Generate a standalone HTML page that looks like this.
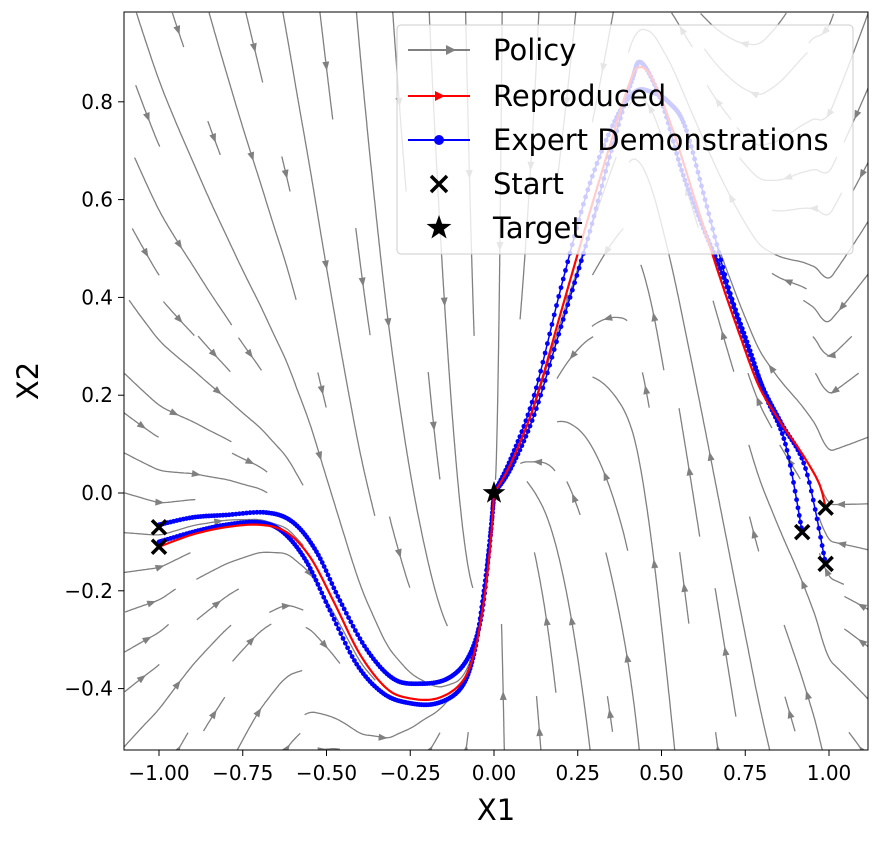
<!DOCTYPE html>
<html><head><meta charset="utf-8"><style>
body{margin:0;background:#fff;}
svg text{font-family:"DejaVu Sans","Liberation Sans",sans-serif;fill:#000;}
</style></head><body>
<svg id="chart" width="879" height="836" xmlns="http://www.w3.org/2000/svg">
<defs><clipPath id="clip"><rect x="124" y="12" width="744" height="738"/></clipPath></defs>
<g id="stream" clip-path="url(#clip)"></g>
<g id="demos" clip-path="url(#clip)"></g>
<g id="repro" clip-path="url(#clip)"></g>
<g id="marks"></g>
<g id="axes"></g>
<g id="legend"></g>
</svg>
<script>
// ---- data ----
const xTicks=[-1,-0.75,-0.5,-0.25,0,0.25,0.5,0.75,1];
const xTickLabels=["\u22121.00","\u22120.75","\u22120.50","\u22120.25","0.00","0.25","0.50","0.75","1.00"];
const yTicks=[-0.4,-0.2,0,0.2,0.4,0.6,0.8];
const yTickLabels=["\u22120.4","\u22120.2","0.0","0.2","0.4","0.6","0.8"];
const reproLeftX=[-1,-0.9,-0.8,-0.7,-0.62,-0.55,-0.48,-0.4,-0.32,-0.25,-0.17,-0.1,-0.06,-0.03,-0.01,0];
const reproLeftY=[-0.11,-0.085,-0.07,-0.065,-0.08,-0.13,-0.22,-0.33,-0.4,-0.42,-0.42,-0.39,-0.33,-0.22,-0.1,0];
const reproRightX=[0,0.05,0.12,0.2,0.28,0.35,0.4,0.43,0.47,0.53,0.6,0.67,0.73,0.79,0.85,0.92,0.97,0.99];
const reproRightY=[0,0.06,0.18,0.37,0.56,0.72,0.83,0.87,0.85,0.75,0.6,0.45,0.33,0.22,0.15,0.08,0.02,-0.03];
const demoA_X=[-1,-0.9,-0.8,-0.68,-0.6,-0.53,-0.46,-0.38,-0.3,-0.22,-0.14,-0.08,-0.04,-0.015,0];
const demoA_Y=[-0.065,-0.05,-0.045,-0.04,-0.06,-0.12,-0.22,-0.32,-0.38,-0.39,-0.38,-0.34,-0.26,-0.12,0];
const demoB_X=[-1,-0.9,-0.8,-0.7,-0.63,-0.56,-0.49,-0.41,-0.33,-0.25,-0.17,-0.1,-0.06,-0.03,-0.01,0];
const demoB_Y=[-0.1,-0.08,-0.065,-0.06,-0.08,-0.14,-0.24,-0.35,-0.41,-0.43,-0.43,-0.4,-0.33,-0.2,-0.08,0];
const demoC_X=[0,0.05,0.12,0.2,0.28,0.36,0.42,0.47,0.52,0.57,0.63,0.7,0.76,0.81,0.87,0.92];
const demoC_Y=[0,0.07,0.2,0.42,0.62,0.76,0.82,0.82,0.8,0.75,0.6,0.42,0.3,0.2,0.1,-0.08];
const demoD_X=[0,0.05,0.12,0.2,0.28,0.35,0.41,0.44,0.5,0.56,0.62,0.68,0.74,0.8,0.86,0.93,0.99];
const demoD_Y=[0,0.05,0.16,0.34,0.52,0.7,0.84,0.88,0.8,0.66,0.55,0.45,0.33,0.22,0.14,0.05,-0.145];
const startsX=[-1,-1,0.92,0.99,0.99];
const startsY=[-0.07,-0.11,-0.08,-0.03,-0.145];
// ---- scales ----
const sx=x=>159+(x+1)*335, sy=y=>493-y*489;
const ns="http://www.w3.org/2000/svg";
function mk(tag,attrs,parent){const e=document.createElementNS(ns,tag);for(const k in attrs)e.setAttribute(k,attrs[k]);parent.appendChild(e);return e;}
function interp(xs,ys,x){if(x<=xs[0])return ys[0];for(let i=1;i<xs.length;i++){if(x<=xs[i]){const t=(x-xs[i-1])/(xs[i]-xs[i-1]);return ys[i-1]+t*(ys[i]-ys[i-1]);}}return ys[ys.length-1];}
function h(x){ if(x<0){return x<-1?reproLeftY[0]:interp(reproLeftX,reproLeftY,x);} return x>0.99?reproRightY[reproRightY.length-1]:interp(reproRightX,reproRightY,x);}
function field(x,y){const dx=-x*1.2;const e=0.02;const hp=(h(x+e)-h(x-e))/(2*e);const dy=hp*dx-2.5*(y-h(x));return [dx,dy];}
function smooth(xs,ys,n){const P=xs.map((x,i)=>[sx(x),sy(ys[i])]);const out=[];
 for(let i=0;i<P.length-1;i++){const p0=P[Math.max(i-1,0)],p1=P[i],p2=P[i+1],p3=P[Math.min(i+2,P.length-1)];
  for(let k=0;k<n;k++){const t=k/n,t2=t*t,t3=t2*t;
   out.push([0.5*(2*p1[0]+(-p0[0]+p2[0])*t+(2*p0[0]-5*p1[0]+4*p2[0]-p3[0])*t2+(-p0[0]+3*p1[0]-3*p2[0]+p3[0])*t3),
             0.5*(2*p1[1]+(-p0[1]+p2[1])*t+(2*p0[1]-5*p1[1]+4*p2[1]-p3[1])*t2+(-p0[1]+3*p1[1]-3*p2[1]+p3[1])*t3)]);}}
 out.push(P[P.length-1]);return out;}
// ---- streamlines ----
const sg=document.getElementById('stream');
const X0=124,Y0=12,W=744,H=738,CS=36,NX=Math.ceil(W/CS),NY=Math.ceil(H/CS);
const mask=new Array(NX*NY).fill(0);
function cellOf(px,py){const i=Math.floor((px-X0)/CS),j=Math.floor((py-Y0)/CS);if(i<0||j<0||i>=NX||j>=NY)return -1;return j*NX+i;}
function integ(px,py,dir,own){const pts=[];let steps=0;
 while(steps<1500){const x=(px-159)/335-1,y=(493-py)/489;let [u,v]=field(x,y);let pu=u*335,pv=-v*489;const m=Math.hypot(pu,pv);if(m<1e-3)break;
  px+=dir*2*pu/m;py+=dir*2*pv/m;const c=cellOf(px,py);if(c<0)break;if(mask[c]&&!own.has(c))break;own.add(c);pts.push([px,py]);steps++;
  if(Math.hypot(px-sx(0),py-sy(0))<4)break;}
 return pts;}
for(let j=0;j<NY;j++)for(let i=0;i<NX;i++){const c=j*NX+i;if(mask[c])continue;
 const px=X0+(i+0.5)*CS,py=Y0+(j+0.5)*CS;const own=new Set([c]);
 const b=integ(px,py,-1,own).reverse();const f=integ(px,py,1,own);const pts=b.concat([[px,py]],f);
 if(pts.length<15)continue;own.forEach(k=>mask[k]=1);
 const p=mk('path',{d:'M'+pts.map(q=>q[0].toFixed(1)+','+q[1].toFixed(1)).join('L'),fill:'none',stroke:'#808080','stroke-width':1.3},sg);
 
 
 const m=Math.floor(pts.length/2);const a=pts[m],q=pts[Math.min(m+1,pts.length-1)];let ang=Math.atan2(q[1]-a[1],q[0]-a[0])*180/Math.PI;
 const ar=mk('path',{d:'M5,0L-4,-3.5L-4,3.5Z',fill:'#808080',transform:`translate(${a[0]},${a[1]}) rotate(${ang})`},sg);
 
 }
// ---- demos ----
const dg=document.getElementById('demos');
[[demoA_X,demoA_Y],[demoB_X,demoB_Y],[demoC_X,demoC_Y],[demoD_X,demoD_Y]].forEach(([xs,ys])=>{
 const pts=smooth(xs,ys,12);
 const pl=mk('polyline',{points:pts.map(p=>p[0].toFixed(1)+','+p[1].toFixed(1)).join(' '),fill:'none',stroke:'#0000ff','stroke-width':1.5},dg);
 
 
 pts.forEach(p=>{const c=mk('circle',{cx:p[0],cy:p[1],r:2.4,fill:'#0000ff'},dg);
  
  });});
const rg=document.getElementById('repro');
[[reproLeftX,reproLeftY],[reproRightX,reproRightY]].forEach(([xs,ys])=>{
 const pts=smooth(xs,ys,10);
 const pl=mk('polyline',{points:pts.map(p=>p[0].toFixed(1)+','+p[1].toFixed(1)).join(' '),fill:'none',stroke:'#ff0000','stroke-width':2.2},rg);
 
 });
// ---- markers ----
const mg=document.getElementById('marks');
startsX.forEach((x,i)=>{const cx=sx(x),cy=sy(startsY[i]);
 const p=mk('path',{d:`M${cx-7},${cy-7}L${cx+7},${cy+7}M${cx-7},${cy+7}L${cx+7},${cy-7}`,stroke:'#000','stroke-width':3.5},mg);
 
 });
function star(cx,cy,R){let d='';for(let k=0;k<10;k++){const r=k%2?R*0.4:R;const a=-Math.PI/2+k*Math.PI/5;d+=(k?'L':'M')+(cx+r*Math.cos(a)).toFixed(1)+','+(cy+r*Math.sin(a)).toFixed(1);}return d+'Z';}
const st=mk('path',{d:star(sx(0),sy(0),12),fill:'#000'},mg);


// ---- axes ----
const ag=document.getElementById('axes');
mk('rect',{x:124,y:12,width:744,height:738,fill:'none',stroke:'#000','stroke-width':1},ag);
xTicks.forEach((t,i)=>{mk('line',{x1:sx(t),x2:sx(t),y1:750,y2:756,stroke:'#000'},ag);
 const tx=mk('text',{x:sx(t),y:780,'text-anchor':'middle','font-size':20},ag);tx.textContent=xTickLabels[i];
 
 });
yTicks.forEach((t,i)=>{mk('line',{x1:118,x2:124,y1:sy(t),y2:sy(t),stroke:'#000'},ag);
 const tx=mk('text',{x:113,y:sy(t)+7,'text-anchor':'end','font-size':20},ag);tx.textContent=yTickLabels[i];
 
 });
const xl=mk('text',{x:496,y:820,'text-anchor':'middle','font-size':29},ag);xl.textContent='X1';


const yl=mk('text',{x:38,y:381,'text-anchor':'middle','font-size':29,transform:'rotate(-90 38 381)'},ag);yl.textContent='X2';


// ---- legend ----
const lg=document.getElementById('legend');
mk('rect',{x:397,y:25,width:456,height:229,rx:4,fill:'#fff','fill-opacity':0.8,stroke:'#ccc'},lg);
const labels=['Policy','Reproduced','Expert Demonstrations','Start','Target'];
const ys=[50,96,140,184,228];
labels.forEach((l,i)=>{const y=ys[i];
 if(i===0){mk('line',{x1:408,x2:470,y1:y,y2:y,stroke:'#808080','stroke-width':2},lg);mk('path',{d:`M446,${y-5}L456,${y}L446,${y+5}Z`,fill:'#808080'},lg);}
 if(i===1){mk('line',{x1:408,x2:470,y1:y,y2:y,stroke:'#ff0000','stroke-width':2},lg);mk('path',{d:`M435,${y-5}L445,${y}L435,${y+5}Z`,fill:'#ff0000'},lg);}
 if(i===2){mk('line',{x1:408,x2:470,y1:y,y2:y,stroke:'#0000ff','stroke-width':2},lg);mk('circle',{cx:439,cy:y,r:5,fill:'#0000ff'},lg);}
 if(i===3){mk('path',{d:`M431,${y-8}L447,${y+8}M431,${y+8}L447,${y-8}`,stroke:'#000','stroke-width':3.5},lg);}
 if(i===4){mk('path',{d:star(439,y,13),fill:'#000'},lg);}
 const t=mk('text',{x:493,y:y+10,'font-size':29},lg);t.textContent=l;
 
 });
</script>
</body></html>
